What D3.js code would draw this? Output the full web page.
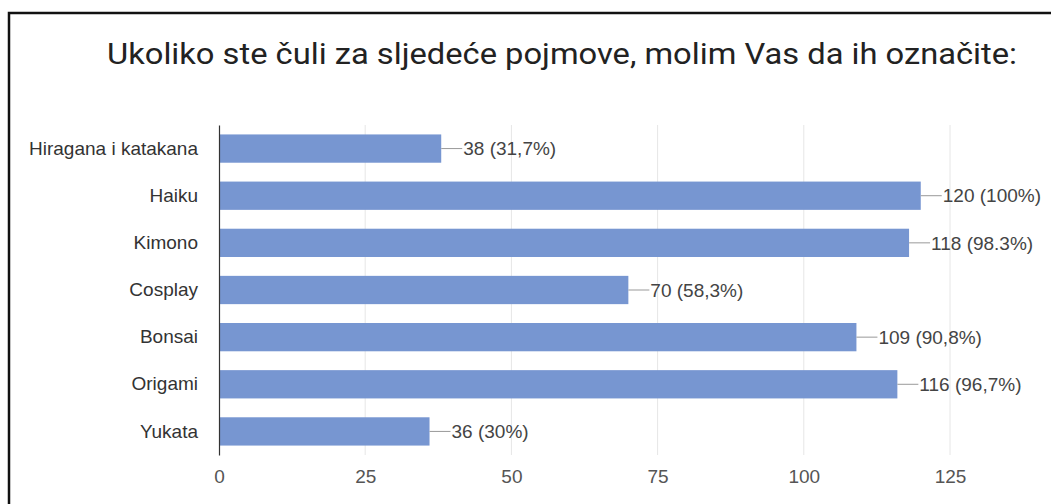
<!DOCTYPE html>
<html>
<head>
<meta charset="utf-8">
<script src="https://cdn.jsdelivr.net/npm/d3@7"></script>
<style>
  body { margin: 0; background: #fff; }
  svg { display: block; }
</style>
</head>
<body>
<svg width="1051" height="504"></svg>
<script>
var title = "Ukoliko ste čuli za sljedeće pojmove, molim Vas da ih označite:";
var categories = ["Hiragana i katakana", "Haiku", "Kimono", "Cosplay", "Bonsai", "Origami", "Yukata"];
var values = [38, 120, 118, 70, 109, 116, 36];
var valueLabels = ["38 (31,7%)", "120 (100%)", "118 (98.3%)", "70 (58,3%)", "109 (90,8%)", "116 (96,7%)", "36 (30%)"];
var ticks = [0, 25, 50, 75, 100, 125];

var svg = d3.select("svg"),
    width = +svg.attr("width"),
    height = +svg.attr("height");

var labelFont = "'Liberation Sans', Arial, sans-serif";

// frame (left and top edges only show)
svg.append("path")
    .attr("d", "M9," + (height + 5) + "V13H" + (width + 5))
    .attr("fill", "none")
    .attr("stroke", "#111")
    .attr("stroke-width", 2.5);

svg.append("text")
    .attr("x", 562)
    .attr("y", 64)
    .attr("text-anchor", "middle")
    .attr("textLength", 910)
    .attr("lengthAdjust", "spacingAndGlyphs")
    .style("font-family", "Roboto, sans-serif")
    .style("font-size", "30px")
    .attr("fill", "#222")
    .text(title);

var x = d3.scaleLinear()
    .domain([0, 125])
    .range([219, 950]);

var y = d3.scaleBand()
    .domain(categories)
    .range([125, 455])
    .paddingInner(0.4)
    .paddingOuter(0.2);

// vertical gridlines
svg.append("g")
    .selectAll("line")
    .data(ticks.slice(1))
    .enter().append("line")
      .attr("x1", d => x(d))
      .attr("x2", d => x(d))
      .attr("y1", 125)
      .attr("y2", 455)
      .attr("stroke", "#e6e6e6")
      .attr("stroke-width", 1);

// x axis tick labels
var xAxis = svg.append("g")
    .attr("transform", "translate(0,455)")
    .call(d3.axisBottom(x).tickValues(ticks).tickSize(0).tickPadding(15));
xAxis.select(".domain").remove();
xAxis.selectAll("text")
    .style("font-family", labelFont)
    .style("font-size", "19px")
    .attr("fill", "#555");

// bars
svg.append("g")
    .selectAll("rect")
    .data(values)
    .enter().append("rect")
      .attr("x", x(0))
      .attr("y", (d, i) => y(categories[i]))
      .attr("width", d => x(d) - x(0))
      .attr("height", y.bandwidth())
      .attr("fill", "#7796d1");

// category labels
var yAxis = svg.append("g")
    .attr("transform", "translate(" + x(0) + ",0)")
    .call(d3.axisLeft(y).tickSize(0).tickPadding(21));
yAxis.select(".domain")
    .attr("stroke", "#333")
    .attr("stroke-width", 1.2);
yAxis.selectAll("text")
    .style("font-family", labelFont)
    .style("font-size", "19px")
    .attr("fill", "#333");

// value annotations with connector
var ann = svg.append("g")
    .selectAll("g")
    .data(values)
    .enter().append("g")
      .attr("transform", (d, i) => "translate(" + x(d) + "," + (y(categories[i]) + y.bandwidth() / 2) + ")");

ann.append("line")
    .attr("x1", 0)
    .attr("x2", 21)
    .attr("stroke", "#999")
    .attr("stroke-width", 1);

ann.append("text")
    .attr("x", 22)
    .attr("dy", "0.35em")
    .style("font-family", labelFont)
    .style("font-size", "19px")
    .attr("fill", "#444")
    .text((d, i) => valueLabels[i]);
</script>
</body>
</html>
